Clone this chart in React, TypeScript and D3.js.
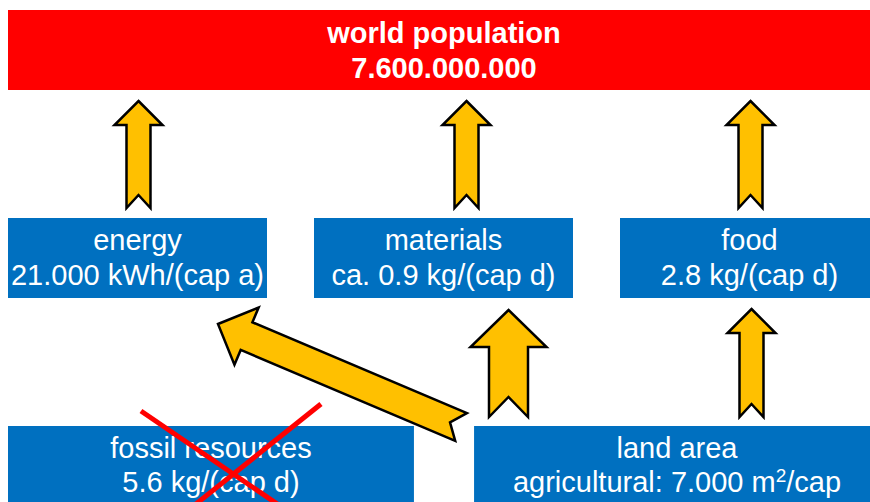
import React from "react";
import * as d3 from "d3";

const W = 870;
const H = 502;

const topLines = ["world population", "7.600.000.000"];
const midNames = ["energy", "materials", "food"];
const midValues = ["21.000 kWh/(cap a)", "ca. 0.9 kg/(cap d)", "2.8 kg/(cap d)"];
const bottomNames = ["fossil resources", "land area"];
const bottomValues = ["5.6 kg/(cap d)", "agricultural: 7.000 m|2|/cap"];
// flows: [from bottom index, to mid index, size]
const bottomToMid: [number, number, "big" | "small"][] = [
  [1, 1, "big"],
  [1, 2, "small"],
];
const crossedBottom = [0];

// layout tweaks (horizontal offsets of arrows from box centers)
const upOffsets = [1, 23, 1];
const bmOffsets = [65, 2];

const RED = "#FF0000";
const BLUE = "#0070C0";
const GOLD = "#FFC000";
const FONT = "'Liberation Sans', Arial, sans-serif";

type Pt = [number, number];

function arrowPath(tail: Pt, tip: Pt, s: number, h: number, hl: number, nd: number) {
  const dx = tip[0] - tail[0];
  const dy = tip[1] - tail[1];
  const L = Math.hypot(dx, dy);
  const u: Pt = [dx / L, dy / L];
  const n: Pt = [-u[1], u[0]];
  const base: Pt = [tip[0] - u[0] * hl, tip[1] - u[1] * hl];
  const pts: Pt[] = [
    tip,
    [base[0] + n[0] * h, base[1] + n[1] * h],
    [base[0] + n[0] * s, base[1] + n[1] * s],
    [tail[0] + n[0] * s, tail[1] + n[1] * s],
    [tail[0] + u[0] * nd, tail[1] + u[1] * nd],
    [tail[0] - n[0] * s, tail[1] - n[1] * s],
    [base[0] - n[0] * s, base[1] - n[1] * s],
    [base[0] - n[0] * h, base[1] - n[1] * h],
  ];
  return d3.line()(pts)! + "Z";
}

function renderLabel(t: string) {
  const parts = t.split("|");
  if (parts.length === 1) return t;
  return (
    <>
      {parts[0]}
      <tspan dy={-10} fontSize={19}>{parts[1]}</tspan>
      <tspan dy={10}>{parts[2]}</tspan>
    </>
  );
}

export default function App() {
  const midX = d3.scaleBand<string>().domain(midNames).range([8, 879]).paddingInner(0.1536).paddingOuter(0);
  const botX = d3.scaleBand<string>().domain(bottomNames).range([8, 880]).paddingInner(0.129).paddingOuter(0);
  const rowY = d3.scaleOrdinal<string, number>().domain(["top", "mid", "bot"]).range([10, 218, 426]);
  const boxH = 80;
  const fs = 29;

  const topY = rowY("top");
  const midY = rowY("mid");
  const botY = rowY("bot");

  return (
    <svg
      width={W}
      height={H}
      style={{ position: "absolute", left: 0, top: 0, background: "#fff" }}
      fontFamily={FONT}
    >
      {/* top box */}
      <rect x={8} y={topY} width={872} height={boxH} fill={RED} />
      {topLines.map((t, i) => (
        <text key={t} x={444} y={topY + 33 + i * 35} fill="#fff" fontWeight="bold" fontSize={fs} textAnchor="middle">
          {t}
        </text>
      ))}

      {/* middle boxes */}
      {midNames.map((name, i) => {
        const x = midX(name)!;
        const bw = midX.bandwidth();
        return (
          <g key={name}>
            <rect x={x} y={midY} width={bw} height={boxH} fill={BLUE} />
            <text x={x + bw / 2} y={midY + 32} fill="#fff" fontSize={fs} textAnchor="middle">{name}</text>
            <text x={x + bw / 2} y={midY + 67} fill="#fff" fontSize={fs} textAnchor="middle">{midValues[i]}</text>
          </g>
        );
      })}

      {/* bottom boxes */}
      {bottomNames.map((name, i) => {
        const x = botX(name)!;
        const bw = botX.bandwidth();
        return (
          <g key={name}>
            <rect x={x} y={botY} width={bw} height={boxH} fill={BLUE} />
            <text x={x + bw / 2} y={botY + 32} fill="#fff" fontSize={fs} textAnchor="middle">{name}</text>
            <text x={x + bw / 2} y={botY + 66} fill="#fff" fontSize={fs} textAnchor="middle">{renderLabel(bottomValues[i])}</text>
          </g>
        );
      })}

      {/* arrows mid -> top */}
      {midNames.map((name, i) => {
        const cx = midX(name)! + midX.bandwidth() / 2 + upOffsets[i];
        return (
          <path
            key={"up-" + name}
            d={arrowPath([cx, midY - 10], [cx, topY + boxH + 11], 12, 24, 24, 13)}
            fill={GOLD}
            stroke="#000"
            strokeWidth={2.5}
          />
        );
      })}

      {/* arrows bottom -> mid */}
      {bottomToMid.map(([b, m, size], k) => {
        const cx = midX(midNames[m])! + midX.bandwidth() / 2 + bmOffsets[k];
        const big = size === "big";
        return (
          <path
            key={"bm-" + b + "-" + m}
            d={
              big
                ? arrowPath([cx, botY - 9], [cx, midY + boxH + 12], 19.5, 38, 37, 20)
                : arrowPath([cx, botY - 9], [cx, midY + boxH + 11], 12, 24, 24, 13)
            }
            fill={GOLD}
            stroke="#000"
            strokeWidth={2.5}
          />
        );
      })}

      {/* diagonal arrow: land -> energy */}
      <path
        d={arrowPath([botX(bottomNames[1])! - 13, botY + 1], [midX(midNames[0])! + 210, midY + boxH + 26], 15, 31, 31, 12)}
        fill={GOLD}
        stroke="#000"
        strokeWidth={2.5}
      />

      {/* red cross */}
      {crossedBottom.map((b) => {
        const x = botX(bottomNames[b])! + botX.bandwidth() / 2 + 22;
        const y = botY + 48;
        return (
          <g key={"x" + b} stroke={RED} strokeWidth={5}>
            <line x1={x - 92} y1={y - 63} x2={x + 56} y2={y + 38} />
            <line x1={x + 88} y1={y - 70} x2={x - 52} y2={y + 42} />
          </g>
        );
      })}
    </svg>
  );
}
